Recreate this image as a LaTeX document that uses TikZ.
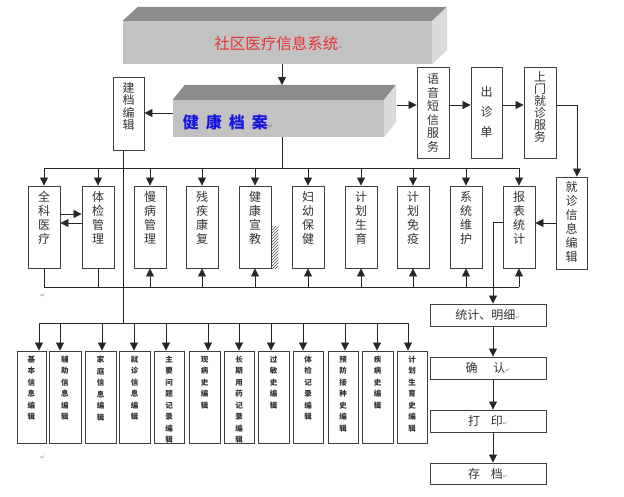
\documentclass[tikz,border=0pt]{standalone}
\usepackage{fontspec}
\setmainfont{Noto Sans CJK SC}
\newfontfamily\sym{DejaVu Sans}
\usetikzlibrary{arrows.meta,patterns}
\definecolor{frontgray}{RGB}{194,194,194}
\definecolor{topgray}{RGB}{140,140,140}
\definecolor{sidegray}{RGB}{218,218,218}
\definecolor{sysred}{RGB}{230,50,50}
\definecolor{jkblue}{RGB}{20,20,225}
\newcommand\retmark{{\sym\fontsize{6}{6}\selectfont\color{black!45}↵}}
\newcommand\vtext[5]{\parbox[c][#1pt][t]{26pt}{\centering\fontsize{#3pt}{#4pt}\selectfont\vspace*{#2pt}#5\par}}
\newcommand\bt[1]{\vtext{92}{5}{7.5}{11.5}{\bfseries #1}}
\begin{document}
\begin{tikzpicture}[x=1pt,y=-1pt,
  box/.style={draw=black!75,line width=0.9pt,fill=white,inner sep=0pt,text=black!80},
  mbox/.style={box,minimum width=32,minimum height=82},
  bbox/.style={box,minimum height=92},
  hbox/.style={box,minimum width=116,minimum height=22,font=\fontsize{12}{12}\selectfont},
  ln/.style={draw=black!85,line width=0.8pt},
  arr/.style={ln,-{Triangle[length=8pt,width=8pt]}},
  pmk/.style={inner sep=0pt}]
\fill[white] (0,0) rectangle (624,496);
\useasboundingbox (0,0) rectangle (624,496);

% ---- system box
\node[fill=frontgray,minimum width=309,minimum height=43,inner sep=0pt] (sys) at (277.5,42.5) {};
\fill[topgray] (sys.north west) -- ++(15,-14) -- ++(309,0) -- (sys.north east) -- cycle;
\fill[sidegray] (sys.north east) -- ++(15,-14) -- ++(0,43) -- (sys.south east) -- cycle;
\node[text=sysred,font=\fontsize{15.5}{15.5}\selectfont] (syst) at (279,44) {社区医疗信息系统\retmark};

% ---- health record box
\node[fill=frontgray,minimum width=211,minimum height=37,inner sep=0pt] (jk) at (278.5,118.5) {};
\fill[topgray] (jk.north west) -- ++(12,-15) -- ++(211,0) -- (jk.north east) -- cycle;
\fill[sidegray] (jk.north east) -- ++(12,-15) -- ++(0,37) -- (jk.south east) -- cycle;
\node[text=jkblue,font=\fontsize{16}{16}\selectfont\bfseries] (jkt) at (228,122) {健\hspace{7pt}康\hspace{7pt}档\hspace{7pt}案\retmark};

% ---- left box
\node[box,minimum width=31,minimum height=73] (jd) at (128.5,113.5) {\vtext{73}{5}{12}{12.5}{建\\档\\编\\辑}};

% ---- right boxes
\node[box,minimum width=32,minimum height=91] (yy) at (433,112.5) {\vtext{91}{7}{12}{13.5}{语\\音\\短\\信\\服\\务}};
\node[box,minimum width=31,minimum height=91] (cz) at (486.5,112.5) {\vtext{91}{19}{12}{20}{出\\诊\\单}};
\node[box,minimum width=32,minimum height=91] (sm) at (540,112.5) {\vtext{91}{5}{12}{12}{上\\门\\就\\诊\\服\\务}};
\node[box,minimum width=31,minimum height=92] (jz) at (571.5,223) {\vtext{92}{4}{12}{14}{就\\诊\\信\\息\\编\\辑}};

% ---- middle row
\node[mbox] (m1) at (44,227) {\vtext{82}{5}{12}{14}{全\\科\\医\\疗}};
\node[mbox] (m2) at (98,227) {\vtext{82}{5}{12}{14}{体\\检\\管\\理}};
\node[mbox] (m3) at (150,227) {\vtext{82}{5}{12}{14}{慢\\病\\管\\理}};
\node[mbox] (m4) at (202,227) {\vtext{82}{5}{12}{14}{残\\疾\\康\\复}};
\node[mbox] (m5) at (255,227) {\vtext{82}{5}{12}{14}{健\\康\\宣\\教}};
\node[mbox] (m6) at (308,227) {\vtext{82}{5}{12}{14}{妇\\幼\\保\\健}};
\node[mbox] (m7) at (361,227) {\vtext{82}{5}{12}{14}{计\\划\\生\\育}};
\node[mbox] (m8) at (413,227) {\vtext{82}{5}{12}{14}{计\\划\\免\\疫}};
\node[mbox] (m9) at (466,227) {\vtext{82}{5}{12}{14}{系\\统\\维\\护}};
\node[mbox] (m10) at (519,227) {\vtext{82}{5}{12}{14}{报\\表\\统\\计}};
\path[pattern=north east lines,pattern color=black!70] (m5.south east) rectangle ++(7,-42);

% ---- bottom row
\node[bbox,minimum width=29] (n1) at (31.5,397) {\bt{基\\本\\信\\息\\编\\辑}};
\node[bbox,minimum width=32] (n2) at (65,397) {\bt{辅\\助\\信\\息\\编\\辑}};
\node[bbox,minimum width=31] (n3) at (100.5,397) {\bt{家\\庭\\信\\息\\编\\辑}};
\node[bbox,minimum width=31] (n4) at (134.5,397) {\bt{就\\诊\\信\\息\\编\\辑}};
\node[bbox,minimum width=30] (n5) at (169,397) {\bt{主\\要\\问\\题\\记\\录\\编\\辑}};
\node[bbox,minimum width=31] (n6) at (204.5,397) {\bt{现\\病\\史\\编\\辑}};
\node[bbox,minimum width=30] (n7) at (239,397) {\bt{长\\期\\用\\药\\记\\录\\编\\辑}};
\node[bbox,minimum width=31] (n8) at (273.5,397) {\bt{过\\敏\\史\\编\\辑}};
\node[bbox,minimum width=30] (n9) at (308,397) {\bt{体\\检\\记\\录\\编\\辑}};
\node[bbox,minimum width=30] (n10) at (343,397) {\bt{预\\防\\接\\种\\史\\编\\辑}};
\node[bbox,minimum width=31] (n11) at (377.5,397) {\bt{疾\\病\\史\\编\\辑}};
\node[bbox,minimum width=30] (n12) at (412,397) {\bt{计\\划\\生\\育\\史\\编\\辑}};

% ---- right column
\node[hbox] (tj) at (488,315) {统计、明细\retmark};
\node[hbox] (qr) at (488,368) {确\hspace{1.3em}认\retmark};
\node[hbox] (dy) at (488,421) {打\hspace{0.9em}印\retmark};
\node[hbox,minimum height=21] (cd) at (488,473.5) {存\hspace{0.9em}档\retmark};

% ---- stray paragraph marks
\node[pmk] (pm1) at (43,296) {\retmark};
\node[pmk] (pm2) at (43,458) {\retmark};

% ---- coordinates
\coordinate (cx) at (282,0);
\coordinate (jktop) at (0,85);
\coordinate (ry) at (0,105);
\coordinate (jkside) at (397,105);
\coordinate (tbus) at (0,168);
\coordinate (mbus) at (0,287);
\coordinate (lbus) at (0,323);
\coordinate (jx) at (123,0);
\coordinate (cv) at (493,0);
\coordinate (jzx) at (577,0);

% ---- connectors
\draw[arr] (cx |- sys.south) -- (cx |- jktop);
\draw[arr] (jk.west |- 0,113) -- (jd.east |- 0,113);
\draw[arr] (jkside) -- (yy.west |- jkside);
\draw[arr] (yy.east |- ry) -- (cz.west |- ry);
\draw[arr] (cz.east |- ry) -- (sm.west |- ry);
\draw[arr] (sm.east |- ry) -| (jzx |- jz.north);
\draw[arr] (jz.west |- 0,223) -- (m10.east |- 0,223);
\draw[arr] (m10.west |- 0,222) -| (cv |- tj.north);
\draw[arr] (cv |- tj.south) -- (cv |- qr.north);
\draw[arr] (cv |- qr.south) -- (cv |- dy.north);
\draw[arr] (cv |- dy.south) -- (cv |- cd.north);

\draw[ln] (cx |- jk.south) -- (cx |- tbus);
\draw[ln] (m1.north |- tbus) -- (m10.north |- tbus);
\foreach \n in {m1,m2,m3,m4,m5,m6,m7,m8,m9,m10}
  \draw[arr] (\n.north |- tbus) -- (\n.north);

\draw[arr] (m1.east |- 0,214) -- (m2.west |- 0,214);
\draw[arr] (m2.west |- 0,223) -- (m1.east |- 0,223);

\draw[ln] (m1.south) -- (m1.south |- mbus) -- (m10.south |- mbus);
\draw[ln] (m2.south) -- (m2.south |- mbus);
\foreach \n in {m3,m4,m5,m6,m7,m8,m9,m10}
  \draw[arr] (\n.south |- mbus) -- (\n.south);

\draw[ln] (jx |- jd.south) -- (jx |- lbus);
\draw[ln] (39,323) -- (408,323);
\foreach \x/\n in {39/n1,60/n2,102/n3,134/n4,166/n5,208/n6,239/n7,271/n8,303/n9,345/n10,377/n11,408/n12}{
  \coordinate (t) at (\x,0);
  \draw[arr] (t |- lbus) -- (t |- \n.north);
}
\end{tikzpicture}
\end{document}
